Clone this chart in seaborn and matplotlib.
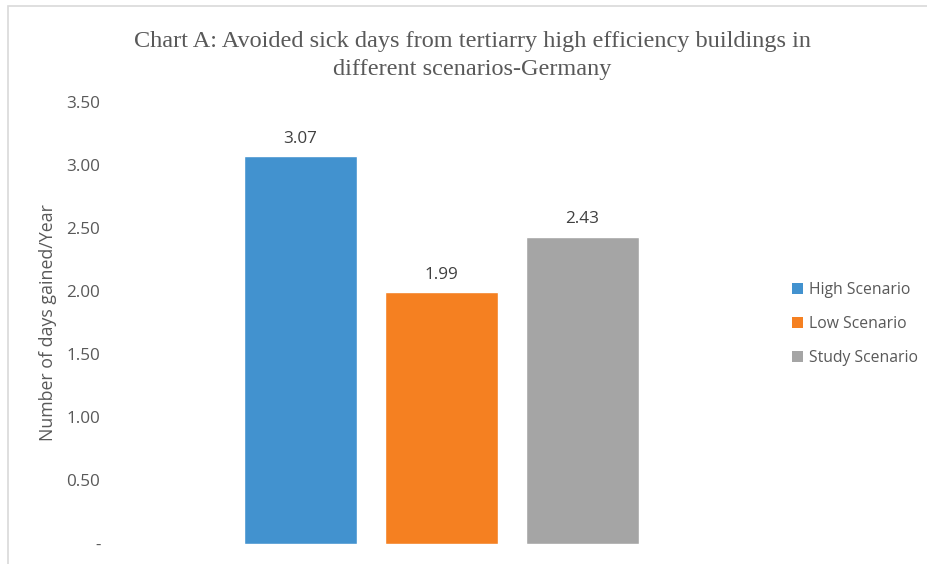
import matplotlib
matplotlib.use("Agg")
import matplotlib.pyplot as plt
import seaborn as sns
import pandas as pd
from matplotlib.patches import Rectangle, Patch

scenarios = ["High Scenario", "Low Scenario", "Study Scenario"]
days_gained = [3.07, 1.99, 2.43]
colors = ["#4292CF", "#F58021", "#A5A5A5"]
yticks = [0, 0.5, 1.0, 1.5, 2.0, 2.5, 3.0, 3.5]
ytick_labels = ["-", "0.50", "1.00", "1.50", "2.00", "2.50", "3.00", "3.50"]

df = pd.DataFrame({"group": ["Germany"] * 3, "scenario": scenarios, "days": days_gained})

sns.set_style("white")
plt.rcParams["font.family"] = ["Open Sans", "DejaVu Sans"]

W, H = 927, 564
fig = plt.figure(figsize=(W / 100, H / 100), dpi=100)
ax = fig.add_axes([110 / W, (H - 543.5) / H, 663 / W, (543.5 - 102) / H])

sns.barplot(data=df, x="group", y="days", hue="scenario", palette=colors,
            width=0.8, gap=0.2, saturation=1, legend=False, ax=ax)

ax.set_xlim(-0.627, 0.627)
ax.set_ylim(0, 3.5)
ax.set_yticks(yticks)
ax.set_yticklabels(ytick_labels, color="#595959", fontsize=12.3)
ax.tick_params(axis="y", length=0, pad=7)
ax.set_xticks([])
ax.set_xlabel("")
ax.set_ylabel("Number of days gained/Year", color="#595959", fontsize=12.8, labelpad=7)
for s in ax.spines.values():
    s.set_visible(False)

for cont in ax.containers:
    ax.bar_label(cont, fmt="%.2f", padding=7, color="#404040", fontsize=12.3)

fig.text(472 / W, 1 - 41 / H,
         "Chart A: Avoided sick days from tertiarry high efficiency buildings in",
         ha="center", va="center", fontsize=17.5, color="#595959",
         family="Liberation Serif")
fig.text(472 / W, 1 - 69 / H, "different scenarios-Germany",
         ha="center", va="center", fontsize=17.5, color="#595959",
         family="Liberation Serif")

handles = [Patch(facecolor=c, edgecolor="none") for c in colors]
fig.legend(handles, scenarios, loc="center left",
           bbox_to_anchor=(778 / W, 1 - 324 / H), frameon=False,
           fontsize=11.3, labelcolor="#595959", handlelength=0.7,
           handleheight=0.7, handletextpad=0.4, labelspacing=1.12)

# outer chart frame
fig.patches.append(Rectangle((8 / W, -0.05), 1.1, 1 - 6 / H + 0.05,
                             transform=fig.transFigure, fill=False,
                             edgecolor="#D9D9D9", linewidth=1.2))

fig.savefig("out.png", dpi=100)
